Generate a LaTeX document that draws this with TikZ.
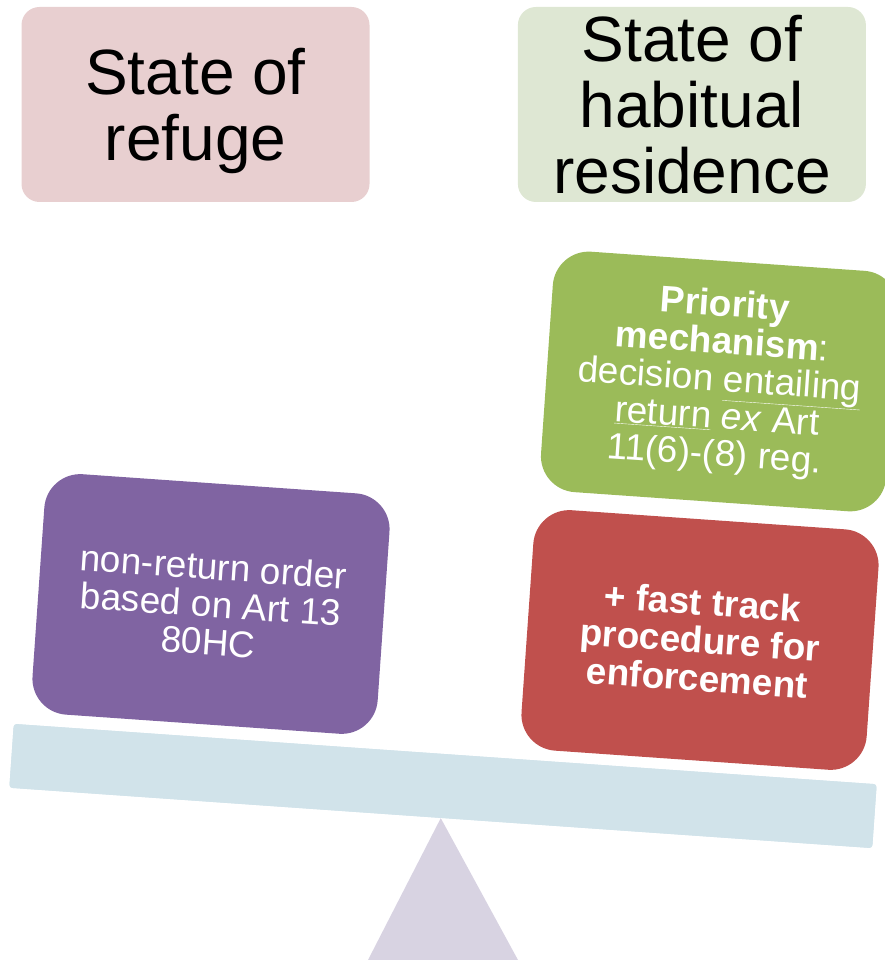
\documentclass[tikz,border=0pt]{standalone}
\usepackage{fontspec}
\setmainfont{Liberation Sans}
\usepackage{tikz}
\usetikzlibrary{positioning}
\definecolor{refugepink}{HTML}{E8CFD0}
\definecolor{homegreen}{HTML}{DEE7D3}
\definecolor{prioritygreen}{HTML}{9BBB59}
\definecolor{orderpurple}{HTML}{8064A2}
\definecolor{trackred}{HTML}{C0504D}
\definecolor{beamblue}{HTML}{D1E3EA}
\definecolor{pivotgrey}{HTML}{D8D3E2}
\tikzstyle{country} = [rectangle, rounded corners=18pt, minimum width=348pt, minimum height=195pt, inner sep=0pt, align=center, font=\fontsize{64}{66}\selectfont]
\tikzstyle{weight} = [rectangle, rounded corners=36pt, minimum width=346pt, minimum height=241pt, inner sep=0pt, rotate=-4, text=white, align=center, font=\fontsize{37}{37.5}\selectfont]
\tikzstyle{pan} = [rectangle, rounded corners=3pt, fill=beamblue, minimum width=865pt, minimum height=64pt, inner sep=0pt, rotate=-4]

\begin{document}
\begin{tikzpicture}[x=1pt, y=1pt, node distance=148pt]
  \useasboundingbox (0,0) rectangle (885,960);

  % the two states
  \node (refuge) [country, fill=refugepink, text depth=0pt] at (195.5,855.5) {State of\\refuge};
  \node (habitual) [country, fill=homegreen, right=of refuge] {State of\\habitual\\residence};

  % pivot and beam of the scale
  \node (beam) [pan] at (443,174) {};
  \fill[pivotgrey] (beam.south) -- (518,0) -- (368,0) -- cycle;
  \node [pan] at (443,174) {};

  % weights on the scale
  \node (nonreturn) [weight, fill=orderpurple] at (211,356) {non-return order\\based on Art 13\\80HC};
  \node (fasttrack) [weight, fill=trackred, font=\fontsize{37}{38}\selectfont\bfseries] at (700,320) {+ fast track\\procedure for\\enforcement};
  \node (priority) [weight, fill=prioritygreen] at (719.5,578.5) {\textbf{Priority}\\\textbf{mechanism}:\\decision \underline{entailing}\\\underline{return} \textit{ex} Art\\11(6)-(8) reg.};
\end{tikzpicture}
\end{document}
